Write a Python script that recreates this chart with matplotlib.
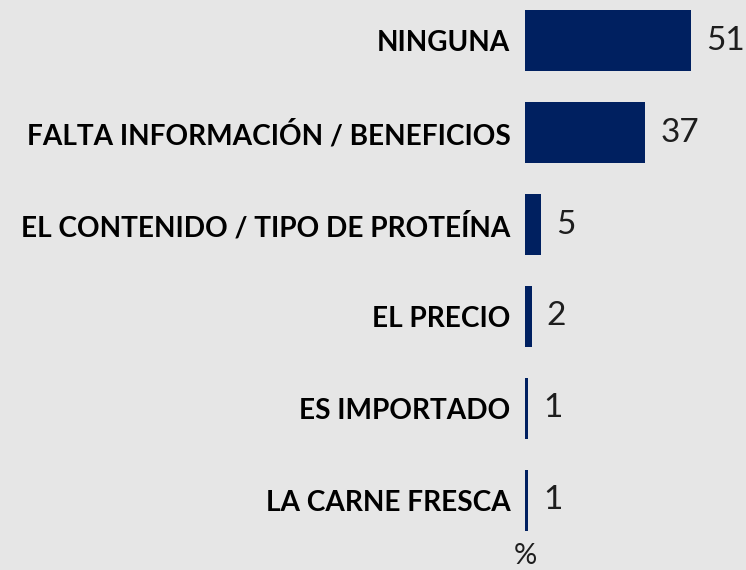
import matplotlib
matplotlib.use("Agg")
import matplotlib.pyplot as plt

categories = ["NINGUNA", "FALTA INFORMACIÓN / BENEFICIOS", "EL CONTENIDO / TIPO DE PROTEÍNA",
              "EL PRECIO", "ES IMPORTADO", "LA CARNE FRESCA"]
values = [51, 37, 5, 2, 1, 1]
unit_label = "%"

bg = "#e6e6e6"
bar_color = "#002060"

fig = plt.figure(figsize=(7.46, 5.70), dpi=100, facecolor=bg)
W, H = 746, 570
left_px, right_px, top_px, bot_px = 525, 746, 0, 546
ax = fig.add_axes([left_px / W, 1 - bot_px / H, (right_px - left_px) / W, (bot_px - top_px) / H])
ax.patch.set_alpha(0)

pos = list(range(len(categories)))
ax.barh(pos, values, height=0.66, color=bar_color)
ax.set_xlim(0, (right_px - left_px) / 3.25)
ax.set_ylim((bot_px - 40.5) / 92, -(40.5) / 92)

ax.set_yticks(pos)
ax.set_yticklabels(categories, fontsize=20.2, fontweight="bold", color="black",
                   family=["Lato", "DejaVu Sans"])
ax.tick_params(axis="y", length=0, pad=10.5)
ax.set_xticks([])
for s in ax.spines.values():
    s.set_visible(False)

for p, v in zip(pos, values):
    ax.annotate(str(v), (v, p), xytext=(15, 0), textcoords="offset pixels",
                va="center", ha="left", fontsize=24, color="#1e1e1e",
                family=["Lato", "DejaVu Sans"])

ax.text(0, -(556 - bot_px) / (bot_px - top_px), unit_label, transform=ax.get_xaxis_transform(),
        ha="center", va="center", fontsize=21, color="#1e1e1e", family=["Lato", "DejaVu Sans"])

fig.savefig("out.png", dpi=100, facecolor=bg)
